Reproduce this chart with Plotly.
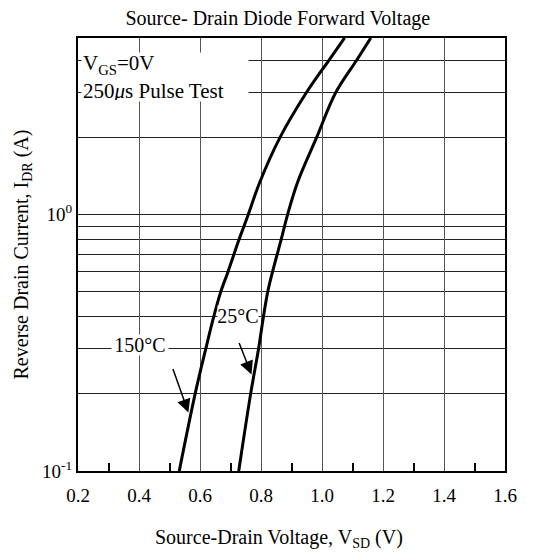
import math
import plotly.graph_objects as go

# Data
current_a = [0.1, 0.2, 0.3, 0.4, 0.5, 0.6, 0.8, 1.0, 1.34, 2.0, 3.0, 4.0, 4.9]
vsd_150c = [0.532, 0.584, 0.619, 0.645, 0.668, 0.692, 0.728, 0.758, 0.796, 0.862, 0.949, 1.022, 1.074]
vsd_25c = [0.727, 0.766, 0.792, 0.808, 0.822, 0.838, 0.866, 0.887, 0.920, 0.982, 1.045, 1.113, 1.160]

x_ticks = [0.2, 0.4, 0.6, 0.8, 1.0, 1.2, 1.4, 1.6]
x_tick_labels = ["0.2", "0.4", "0.6", "0.8", "1.0", "1.2", "1.4", "1.6"]
x_minor = [0.3, 0.5, 0.7, 0.9, 1.1, 1.3, 1.5]
y_ticks = [0.1, 1.0]
y_tick_labels = ["10<sup>-1</sup>", "10<sup>0</sup>"]
y_minor_grid = [0.2, 0.3, 0.4, 0.5, 0.6, 0.7, 0.8, 0.9, 2.0, 3.0, 4.0]

# label text, x (V), y (A), box width px
temp_labels = [("150°C", 0.404, 0.309, 56), ("25°C", 0.726, 0.404, 40)]
# arrow tip x (V), tip y (A), tail offset in px
temp_arrows = [(0.562, 0.169, -16, -45), (0.769, 0.238, -13, -33)]

FONT = "Liberation Serif"

fig = go.Figure()
for xs in (vsd_150c, vsd_25c):
    fig.add_trace(go.Scatter(x=xs, y=current_a, mode="lines",
                             line=dict(color="black", width=3, shape="spline", smoothing=1.0),
                             showlegend=False, hoverinfo="skip"))

fig.update_layout(
    width=544, height=545,
    margin=dict(l=70, r=47, t=30, b=82),
    paper_bgcolor="white", plot_bgcolor="white",
    font=dict(family=FONT, color="black", size=19),
    title=dict(text="Source- Drain Diode Forward Voltage", x=0.496, xanchor="center",
               y=0.981, yanchor="middle", font=dict(size=20, family=FONT)),
)
fig.update_xaxes(
    range=[0.2, 1.6], tickvals=x_ticks, ticktext=x_tick_labels,
    showgrid=True, gridcolor="#555", gridwidth=1,
    showline=True, linecolor="black", linewidth=2, mirror=True,
    ticks="", tickfont=dict(size=19), zeroline=False, automargin=False,
    ticklabelstandoff=6,
    minor=dict(tickvals=x_minor, ticks="inside", ticklen=8, tickcolor="black", tickwidth=1.5, showgrid=False),
)
fig.update_yaxes(
    type="log", range=[-1, 0.69], tickvals=y_ticks, ticktext=y_tick_labels,
    showgrid=True, gridcolor="#222", gridwidth=1,
    showline=True, linecolor="black", linewidth=2, mirror=True,
    ticks="", tickfont=dict(size=19), automargin=False,
    minor=dict(tickvals=y_minor_grid, ticks="", showgrid=True, gridcolor="#222", gridwidth=1),
    title=dict(text="Reverse Drain Current, I<sub>DR</sub> (A)", font=dict(size=20), standoff=8),
)

# x-axis title (centred like the chart title)
fig.add_annotation(xref="paper", yref="paper", x=0.47, y=-0.155, xanchor="center", yanchor="middle",
                   text="Source-Drain Voltage, V<sub>SD</sub> (V)", showarrow=False,
                   font=dict(size=20, family=FONT))

# Condition text box
fig.add_annotation(xref="paper", yref="paper", x=0.008, y=0.968, xanchor="left", yanchor="top",
                   text="V<sub>GS</sub>=0V<br>250<i>μ</i>s Pulse Test", showarrow=False, align="left",
                   font=dict(size=21, family=FONT), bgcolor="white", width=164, height=46, borderpad=1)

for txt, lx, ly, w in temp_labels:
    fig.add_annotation(x=lx, y=math.log10(ly), xref="x", yref="y", text=txt, showarrow=False,
                       font=dict(size=20, family=FONT), bgcolor="white", borderpad=0,
                       width=w, height=20)
for tx, ty, ax, ay in temp_arrows:
    fig.add_annotation(x=tx, y=math.log10(ty), xref="x", yref="y", text="", showarrow=True,
                       arrowhead=2, arrowsize=1.8, arrowwidth=1.5, arrowcolor="black", ax=ax, ay=ay)

fig.write_html("out.html")
